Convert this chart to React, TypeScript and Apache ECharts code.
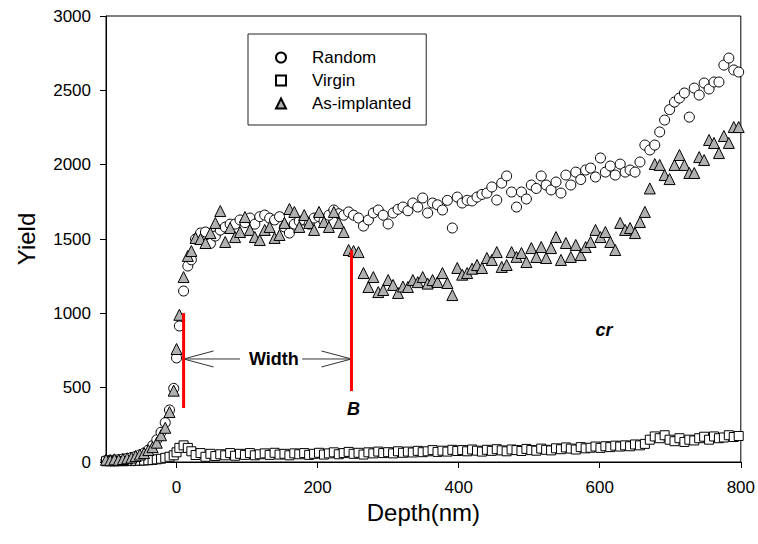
import React, { useEffect, useRef } from "react";
import * as echarts from "echarts";

// Depth channels (nm)
const depth = [
  -100, -94, -88, -82, -76, -70, -64, -58, -52, -46, -40, -34, -28, -22, -16, -10, -4, 0, 4, 10, 16, 21,
  27, 34, 41, 48, 55, 62, 69, 76, 83, 90,
  97, 104, 111, 118, 125, 132, 139, 146, 153, 160,
  167, 174, 181, 188, 195, 202, 209, 216, 223, 230,
  237, 244, 251, 258, 265, 272, 279, 286, 293, 300,
  307, 314, 321, 328, 335, 342, 349, 356, 363, 370,
  377, 384, 391, 398, 405, 412, 419, 426, 433, 440,
  447, 454, 461, 468, 475, 482, 489, 496, 503, 510,
  517, 524, 531, 538, 545, 552, 559, 566, 573, 580,
  587, 594, 601, 608, 615, 622, 629, 636, 643, 650,
  657, 664, 671, 678, 685, 692, 699, 706, 713, 720,
  727, 734, 741, 748, 755, 762, 769, 776, 783, 790, 797,
];

const randomYield = [
  10, 12, 14, 16, 20, 24, 30, 38, 48, 60, 80, 110, 150, 200, 265, 350, 495, 700, 915, 1150, 1318, 1360,
  1500, 1540, 1547, 1470, 1520, 1560, 1580, 1600, 1600, 1628,
  1610, 1641, 1600, 1650, 1661, 1640, 1628, 1650, 1581, 1540,
  1600, 1620, 1628, 1600, 1641, 1650, 1620, 1660, 1695, 1670,
  1660, 1682, 1660, 1641, 1587, 1628, 1675, 1695, 1660, 1601,
  1675, 1700, 1715, 1690, 1742, 1715, 1776, 1675, 1742, 1730,
  1695, 1760, 1574, 1782, 1742, 1760, 1756, 1782, 1800, 1809,
  1850, 1762, 1876, 1924, 1816, 1715, 1816, 1769, 1863, 1840,
  1924, 1863, 1830, 1883, 1809, 1930, 1863, 1950, 1900, 1964,
  1977, 1917, 2045, 1950, 1991, 1930, 2004, 1950, 1964, 1950,
  2018, 2132, 2099, 2132, 2220, 2300, 2370, 2421, 2448, 2482,
  2320, 2515, 2468, 2549, 2509, 2556, 2556, 2670, 2717, 2637, 2623,
];

const virginYield = [
  5, 6, 4, 6, 5, 7, 6, 8, 9, 10, 12, 14, 18, 22, 28, 35, 45, 65, 95, 112, 95, 72,
  47, 60, 35, 55, 40, 52, 45, 60, 42, 55,
  48, 60, 45, 52, 58, 48, 62, 50, 55, 45,
  58, 52, 60, 48, 55, 62, 50, 58, 65, 52,
  60, 68, 55, 62, 50, 65, 58, 70, 60, 66,
  58, 72, 62, 70, 64, 75, 66, 72, 80, 68,
  76, 70, 82, 74, 80, 72, 84, 76, 70, 82,
  75, 86, 78, 72, 84, 80, 74, 88, 80, 76,
  90, 82, 78, 92, 86, 98, 90, 84, 100, 92,
  96, 104, 95, 106, 100, 110, 104, 112, 106, 118,
  112, 122, 150, 172, 160, 180, 150, 140, 160, 135,
  150, 145, 160, 170, 150, 172, 160, 165, 180, 168, 175,
];

const implantedYield = [
  15, 12, 18, 15, 20, 25, 30, 40, 50, 60, 80, 100, 130, 180, 230, 336, 480, 760, 990, 1244, 1386, 1419,
  1507, 1500, 1473, 1540, 1608, 1688, 1480, 1574, 1513, 1547,
  1648, 1561, 1513, 1493, 1561, 1581, 1507, 1527, 1608, 1702,
  1682, 1581, 1661, 1608, 1561, 1682, 1614, 1581, 1682, 1608,
  1547, 1426, 1419, 1412, 1271, 1177, 1244, 1143, 1157, 1224,
  1191, 1137, 1180, 1177, 1224, 1210, 1244, 1200, 1224, 1211,
  1271, 1204, 1123, 1305, 1260, 1271, 1300, 1325, 1305, 1372,
  1359, 1412, 1312, 1325, 1412, 1380, 1406, 1345, 1439, 1379,
  1446, 1372, 1439, 1513, 1359, 1473, 1379, 1460, 1392, 1446,
  1480, 1561, 1513, 1547, 1480, 1426, 1608, 1561, 1574, 1540,
  1614, 1682, 1840, 2004, 1998, 1930, 1903, 1998, 2065, 1998,
  1944, 1944, 2051, 2031, 2166, 2146, 2078, 2193, 2146, 2253, 2253,
];

const xTicks = [0, 200, 400, 600, 800];
const seriesNames = ["Random", "Virgin", "As-implanted"];

// Annotations (data coordinates)
const redMarkers = [
  { x: 10, yFrom: 363, yTo: 1002 },
  { x: 248, yFrom: 477, yTo: 1426 },
];
const widthArrow = { x0: 10, x1: 248, y: 693, gapFrom: 90, gapTo: 178, textX: 138 };
const annotationTexts = [
  { text: "B", x: 251, y: 356 },
  { text: "cr", x: 606, y: 888 },
];

const FONT = "Liberation Sans, Arial, Helvetica, sans-serif";

export default function App() {
  const ref = useRef<HTMLDivElement>(null);

  useEffect(() => {
    if (!ref.current) return;
    const chart = echarts.init(ref.current, null, { renderer: "svg" });
    const pair = (ys: number[]) => depth.map((d, i) => [d, ys[i]]);

    chart.setOption({
      animation: false,
      textStyle: { fontFamily: FONT },
      grid: {
        left: 106,
        right: 14,
        top: 16,
        bottom: 82,
        show: true,
        borderColor: "#000",
        borderWidth: 1,
      },
      xAxis: {
        type: "value",
        min: -100,
        max: 800,
        name: "Depth(nm)",
        nameLocation: "middle",
        nameGap: 36,
        nameTextStyle: { fontSize: 24, color: "#000", fontFamily: FONT },
        axisLine: { show: true, onZero: false, lineStyle: { color: "#000", width: 1 } },
        axisTick: { show: true, length: 6, customValues: xTicks, lineStyle: { color: "#000" } },
        axisLabel: {
          customValues: xTicks,
          fontSize: 17,
          color: "#000",
          margin: 17,
          fontFamily: FONT,
          formatter: (v: number) => String(v),
        },
        splitLine: { show: false },
      },
      yAxis: {
        type: "value",
        min: 0,
        max: 3000,
        interval: 500,
        name: "Yield",
        nameLocation: "middle",
        nameGap: 68,
        nameTextStyle: { fontSize: 24, color: "#000", fontFamily: FONT },
        axisLine: { show: true, onZero: false, lineStyle: { color: "#000", width: 1 } },
        axisTick: { show: true, length: 6, lineStyle: { color: "#000" } },
        axisLabel: {
          fontSize: 17,
          color: "#000",
          margin: 15,
          fontFamily: FONT,
          formatter: (v: number) => String(v),
        },
        splitLine: { show: false },
      },
      legend: {
        orient: "vertical",
        left: 248,
        top: 34,
        padding: [15, 15, 13, 27],
        borderColor: "#222",
        borderWidth: 1,
        itemWidth: 10,
        itemHeight: 10,
        itemGap: 6,
        textStyle: {
          fontSize: 17,
          color: "#000",
          lineHeight: 16,
          fontFamily: FONT,
          padding: [0, 0, 0, 21],
        },
        data: seriesNames,
      },
      series: [
        {
          name: seriesNames[0],
          type: "scatter",
          data: pair(randomYield),
          symbol: "circle",
          symbolSize: 10,
          clip: false,
          itemStyle: { color: "#fff", borderColor: "#000", borderWidth: 1, opacity: 1 },
        },
        {
          name: seriesNames[1],
          type: "scatter",
          data: pair(virginYield),
          symbol: "rect",
          symbolSize: 9,
          clip: false,
          itemStyle: { color: "#fff", borderColor: "#000", borderWidth: 1, opacity: 1 },
        },
        {
          name: seriesNames[2],
          type: "scatter",
          data: pair(implantedYield),
          symbol: "triangle",
          symbolSize: 11,
          clip: false,
          itemStyle: { color: "#b0b0b0", borderColor: "#000", borderWidth: 1, opacity: 1 },
        },
      ],
    });

    const px = (x: number, y: number) =>
      chart.convertToPixel({ gridIndex: 0 }, [x, y]) as number[];

    const elements: any[] = [];
    redMarkers.forEach((m) => {
      const a = px(m.x, m.yFrom);
      const b = px(m.x, m.yTo);
      elements.push({
        type: "line",
        shape: { x1: a[0], y1: a[1], x2: b[0], y2: b[1] },
        style: { stroke: "#ff0000", lineWidth: 3 },
        z: 20,
      });
    });

    const s = px(widthArrow.x0, widthArrow.y);
    const e = px(widthArrow.x1, widthArrow.y);
    const g0 = px(widthArrow.gapFrom, widthArrow.y);
    const g1 = px(widthArrow.gapTo, widthArrow.y);
    const arrowStyle = { stroke: "#333", lineWidth: 1 };
    const headL = 30;
    const headH = 8;
    elements.push(
      { type: "line", shape: { x1: s[0], y1: s[1], x2: g0[0], y2: g0[1] }, style: arrowStyle, z: 15 },
      { type: "line", shape: { x1: g1[0], y1: g1[1], x2: e[0], y2: e[1] }, style: arrowStyle, z: 15 },
      { type: "line", shape: { x1: s[0], y1: s[1], x2: s[0] + headL, y2: s[1] - headH }, style: arrowStyle, z: 15 },
      { type: "line", shape: { x1: s[0], y1: s[1], x2: s[0] + headL, y2: s[1] + headH }, style: arrowStyle, z: 15 },
      { type: "line", shape: { x1: e[0], y1: e[1], x2: e[0] - headL, y2: e[1] - headH }, style: arrowStyle, z: 15 },
      { type: "line", shape: { x1: e[0], y1: e[1], x2: e[0] - headL, y2: e[1] + headH }, style: arrowStyle, z: 15 }
    );
    const t = px(widthArrow.textX, widthArrow.y);
    elements.push({
      type: "text",
      x: t[0],
      y: t[1],
      z: 16,
      style: {
        text: "Width",
        fontSize: 18,
        fontWeight: "bold",
        fontFamily: FONT,
        fill: "#000",
        align: "center",
        verticalAlign: "middle",
      },
    });
    annotationTexts.forEach((a) => {
      const p = px(a.x, a.y);
      elements.push({
        type: "text",
        x: p[0],
        y: p[1],
        z: 16,
        style: {
          text: a.text,
          fontSize: 18,
          fontWeight: "bold",
          fontStyle: "italic",
          fontFamily: FONT,
          fill: "#000",
          align: "center",
          verticalAlign: "middle",
        },
      });
    });

    chart.setOption({ graphic: { elements } });

    return () => chart.dispose();
  }, []);

  return <div ref={ref} style={{ width: 758, height: 544, position: "absolute", left: 0, top: 0 }} />;
}
